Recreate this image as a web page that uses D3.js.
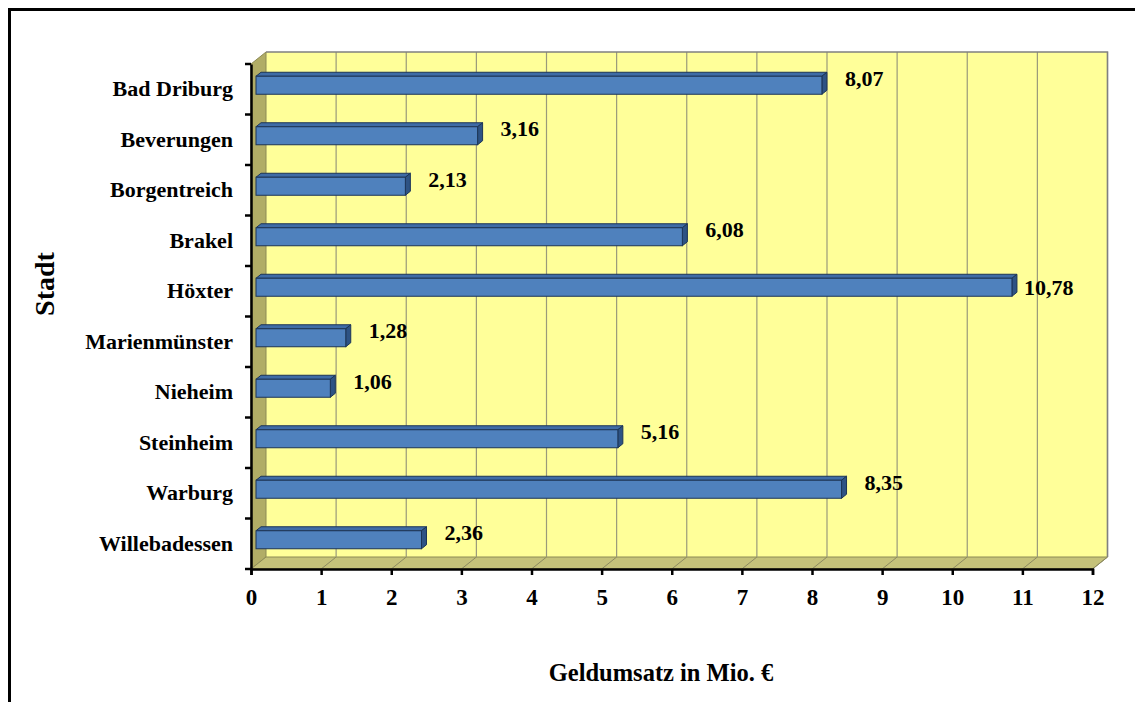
<!DOCTYPE html>
<html>
<head>
<meta charset="utf-8">
<script src="https://cdn.jsdelivr.net/npm/d3@7"></script>
<style>
  html, body { margin: 0; padding: 0; background: #fff; }
  svg { display: block; }
  text { font-family: "Liberation Serif", "Times New Roman", serif; font-weight: bold; fill: #000; }
</style>
</head>
<body>
<svg id="chart" width="1135" height="702"></svg>
<script>
const categories = ["Bad Driburg", "Beverungen", "Borgentreich", "Brakel", "Höxter",
                    "Marienmünster", "Nieheim", "Steinheim", "Warburg", "Willebadessen"];
const values = [8.07, 3.16, 2.13, 6.08, 10.78, 1.28, 1.06, 5.16, 8.35, 2.36];
const valueLabels = ["8,07", "3,16", "2,13", "6,08", "10,78", "1,28", "1,06", "5,16", "8,35", "2,36"];
const xTicks = [0, 1, 2, 3, 4, 5, 6, 7, 8, 9, 10, 11, 12];
const xTitle = "Geldumsatz in Mio. €";
const yTitle = "Stadt";

const svg = d3.select("#chart");

// frame
svg.append("path")
  .attr("d", "M9.5,702 L9.5,9.5 L1140,9.5")
  .attr("fill", "none").attr("stroke", "#000").attr("stroke-width", 3);

// 3D geometry
const DX = 15, DY = -12;             // depth vector
const x = d3.scaleLinear().domain([0, 12]).range([251, 1092.5]);
const y = d3.scaleBand().domain(categories).range([64, 569]);
const top0 = 64, bot0 = 569;

const g = svg.append("g");

// back wall
g.append("rect")
  .attr("x", x(0) + DX).attr("y", top0 + DY)
  .attr("width", x(12) - x(0)).attr("height", bot0 - top0)
  .attr("fill", "#ffff99");

// left wall
g.append("path")
  .attr("d", `M${x(0)},${top0} L${x(0)+DX},${top0+DY} L${x(0)+DX},${bot0+DY} L${x(0)},${bot0} Z`)
  .attr("fill", "#b1ad66").attr("stroke", "#8c8a55").attr("stroke-width", 1);

// floor
g.append("path")
  .attr("d", `M${x(0)},${bot0} L${x(0)+DX},${bot0+DY} L${x(12)+DX},${bot0+DY} L${x(12)},${bot0} Z`)
  .attr("fill", "#c5c27a").attr("stroke", "#8c8a55").attr("stroke-width", 1);

// gridlines on back wall and floor
const grid = xTicks.filter(v => v > 0);
g.selectAll("line.gw").data(grid).enter().append("line")
  .attr("class", "gw")
  .attr("x1", d => x(d) + DX).attr("x2", d => x(d) + DX)
  .attr("y1", top0 + DY).attr("y2", bot0 + DY)
  .attr("stroke", "#9a9a7a").attr("stroke-width", 1.2);
g.selectAll("line.gf").data(grid).enter().append("line")
  .attr("class", "gf")
  .attr("x1", d => x(d)).attr("x2", d => x(d) + DX)
  .attr("y1", bot0).attr("y2", bot0 + DY)
  .attr("stroke", "#8c8a60").attr("stroke-width", 1);

// back wall top/right border
g.append("path")
  .attr("d", `M${x(0)+DX},${top0+DY} L${x(12)+DX},${top0+DY} L${x(12)+DX},${bot0+DY}`)
  .attr("fill", "none").attr("stroke", "#808080").attr("stroke-width", 1.5);

// bars
const bdx = DX / 3, bdy = DY / 3;    // bar depth
const barH = 18;
const bars = g.selectAll("g.bar").data(categories).enter().append("g").attr("class", "bar");
bars.each(function(c, i) {
  const sel = d3.select(this);
  const x0 = x(0) + bdx, x1 = x(values[i]) + bdx;
  const yc = y(c) + y.bandwidth() / 2 + bdy;
  const yt = yc - barH / 2, yb = yc + barH / 2;
  sel.append("path")
    .attr("d", `M${x0},${yt} L${x0+bdx},${yt+bdy} L${x1+bdx},${yt+bdy} L${x1},${yt} Z`)
    .attr("fill", "#3f6ca6").attr("stroke", "#1c3557").attr("stroke-width", 1);
  sel.append("path")
    .attr("d", `M${x1},${yt} L${x1+bdx},${yt+bdy} L${x1+bdx},${yb+bdy} L${x1},${yb} Z`)
    .attr("fill", "#2e5384").attr("stroke", "#1c3557").attr("stroke-width", 1);
  sel.append("rect")
    .attr("x", x0).attr("y", yt).attr("width", x1 - x0).attr("height", barH)
    .attr("fill", "#4f81bd").attr("stroke", "#1c3557").attr("stroke-width", 1);
  // value label (pulled back in when it would reach the wall edge)
  let lx = x1 + bdx + 18;
  let ly = yc - 7;
  const w = valueLabels[i].length * 12;
  if (lx + w > x(12)) { lx = x1 + bdx + 7; ly = yc; }
  sel.append("text")
    .attr("x", lx).attr("y", ly).attr("dy", "0.35em")
    .attr("font-size", 22).text(valueLabels[i]);
});

// axes
const xAxis = d3.axisBottom(x).tickValues(xTicks).tickSize(6).tickFormat(d3.format("d"));
const xa = svg.append("g").attr("transform", `translate(0,${bot0})`).call(xAxis);
xa.select(".domain").attr("stroke", "#000").attr("stroke-width", 2.5);
xa.selectAll(".tick line").attr("stroke", "#000").attr("stroke-width", 2.5);
xa.selectAll(".tick text")
  .attr("font-family", "Liberation Serif, Times New Roman, serif")
  .attr("font-weight", "bold").attr("font-size", 23).attr("fill", "#000")
  .attr("y", 20);

const yAxis = d3.axisLeft(y).tickSize(0).tickPadding(18);
const ya = svg.append("g").attr("transform", `translate(${x(0)},0)`).call(yAxis);
ya.select(".domain").attr("stroke", "#000").attr("stroke-width", 2.5);
ya.selectAll(".tick text")
  .attr("font-family", "Liberation Serif, Times New Roman, serif")
  .attr("font-weight", "bold").attr("font-size", 22).attr("fill", "#000");
// category boundary ticks
const bounds = categories.map(c => y(c)).concat([bot0]);
ya.selectAll("line.bt").data(bounds).enter().append("line")
  .attr("class", "bt")
  .attr("x1", -6).attr("x2", 0).attr("y1", d => d).attr("y2", d => d)
  .attr("stroke", "#000").attr("stroke-width", 2.5);

// titles
svg.append("text")
  .attr("x", 661).attr("y", 681).attr("text-anchor", "middle")
  .attr("font-size", 24.5).text(xTitle);
svg.append("text")
  .attr("transform", "translate(54,284) rotate(-90)")
  .attr("text-anchor", "middle")
  .attr("font-size", 28).text(yTitle);
</script>
</body>
</html>
